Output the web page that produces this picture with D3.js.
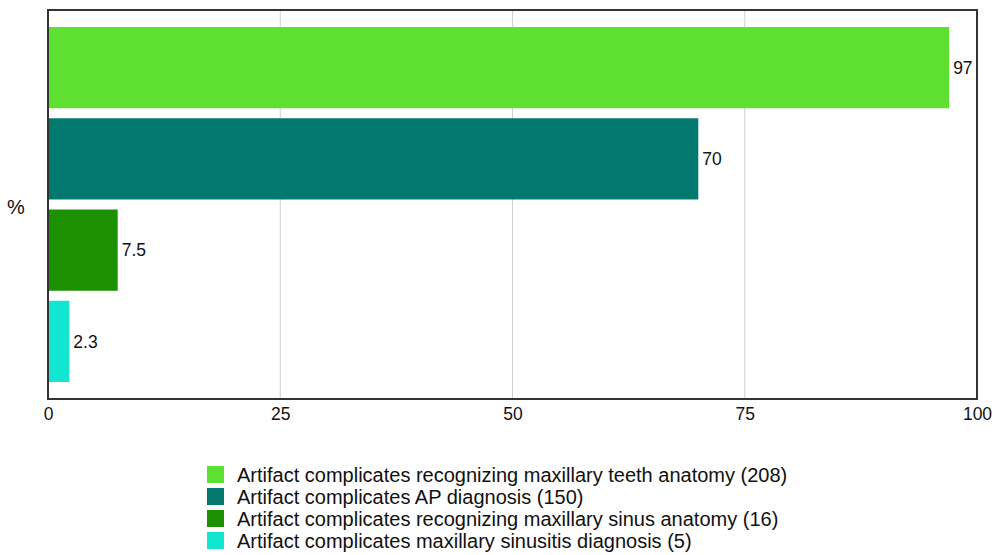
<!DOCTYPE html>
<html>
<head>
<meta charset="utf-8">
<script src="https://cdn.jsdelivr.net/npm/d3@7"></script>
<style>
  html, body { margin: 0; padding: 0; background: #fff; }
  svg { display: block; font-family: "Liberation Sans", Arial, Helvetica, sans-serif; }
</style>
</head>
<body>
<svg id="chart" width="1000" height="555"></svg>
<script>
// Share of responses (%) and respondent counts per statement
const categories = [
  "Artifact complicates recognizing maxillary teeth anatomy",
  "Artifact complicates AP diagnosis",
  "Artifact complicates recognizing maxillary sinus anatomy",
  "Artifact complicates maxillary sinusitis diagnosis"
];
const counts = [208, 150, 16, 5];
const percents = [97, 70, 7.5, 2.3];
const colors = ["#5ee030", "#01796f", "#1b9000", "#12e5d0"];
const xTicks = [0, 25, 50, 75, 100];
const axisTitle = "%";

const svg = d3.select("#chart");
const plot = { left: 48, right: 977, top: 10, bottom: 399 };

const x = d3.scaleLinear().domain([0, 100]).range([plot.left, plot.right]);
const y = d3.scaleBand().domain(d3.range(categories.length))
  .range([27, 382]).paddingInner(0.11).paddingOuter(0);

// vertical gridlines
svg.append("g")
  .selectAll("line")
  .data(xTicks.filter(t => t > 0 && t < 100))
  .join("line")
  .attr("x1", d => x(d)).attr("x2", d => x(d))
  .attr("y1", plot.top).attr("y2", plot.bottom)
  .attr("stroke", "#cfcfcf").attr("stroke-width", 1);

// bars
svg.append("g")
  .selectAll("rect")
  .data(percents)
  .join("rect")
  .attr("x", x(0))
  .attr("y", (d, i) => y(i))
  .attr("width", d => x(d) - x(0))
  .attr("height", y.bandwidth())
  .attr("fill", (d, i) => colors[i]);

// value labels
svg.append("g")
  .selectAll("text")
  .data(percents)
  .join("text")
  .attr("x", d => x(d) + 4)
  .attr("y", (d, i) => y(i) + y.bandwidth() / 2)
  .attr("dy", "0.35em")
  .attr("font-size", 17.5)
  .attr("fill", "#111")
  .text(d => d);

// frame around plot area
svg.append("rect")
  .attr("x", plot.left).attr("y", plot.top)
  .attr("width", plot.right - plot.left)
  .attr("height", plot.bottom - plot.top)
  .attr("fill", "none")
  .attr("stroke", "#333").attr("stroke-width", 2);

// x axis tick labels
const xAxis = d3.axisBottom(x).tickValues(xTicks).tickSize(0).tickPadding(9);
const gx = svg.append("g").attr("transform", `translate(0,${plot.bottom})`).call(xAxis);
gx.select(".domain").remove();
gx.selectAll("text")
  .attr("font-size", 17.5)
  .attr("font-family", "Liberation Sans, Arial, sans-serif")
  .attr("fill", "#111");

// y axis title
svg.append("text")
  .attr("x", 16).attr("y", 207)
  .attr("text-anchor", "middle")
  .attr("dy", "0.35em")
  .attr("font-size", 20)
  .attr("fill", "#111")
  .text(axisTitle);

// legend
const legend = svg.append("g").attr("transform", "translate(207,466)");
const rows = legend.selectAll("g")
  .data(categories)
  .join("g")
  .attr("transform", (d, i) => `translate(0,${i * 22})`);
rows.append("rect")
  .attr("width", 17).attr("height", 17)
  .attr("fill", (d, i) => colors[i]);
rows.append("text")
  .attr("x", 30).attr("y", 9)
  .attr("dy", "0.35em")
  .attr("font-size", 20)
  .attr("fill", "#111")
  .text((d, i) => `${d} (${counts[i]})`);
</script>
</body>
</html>
